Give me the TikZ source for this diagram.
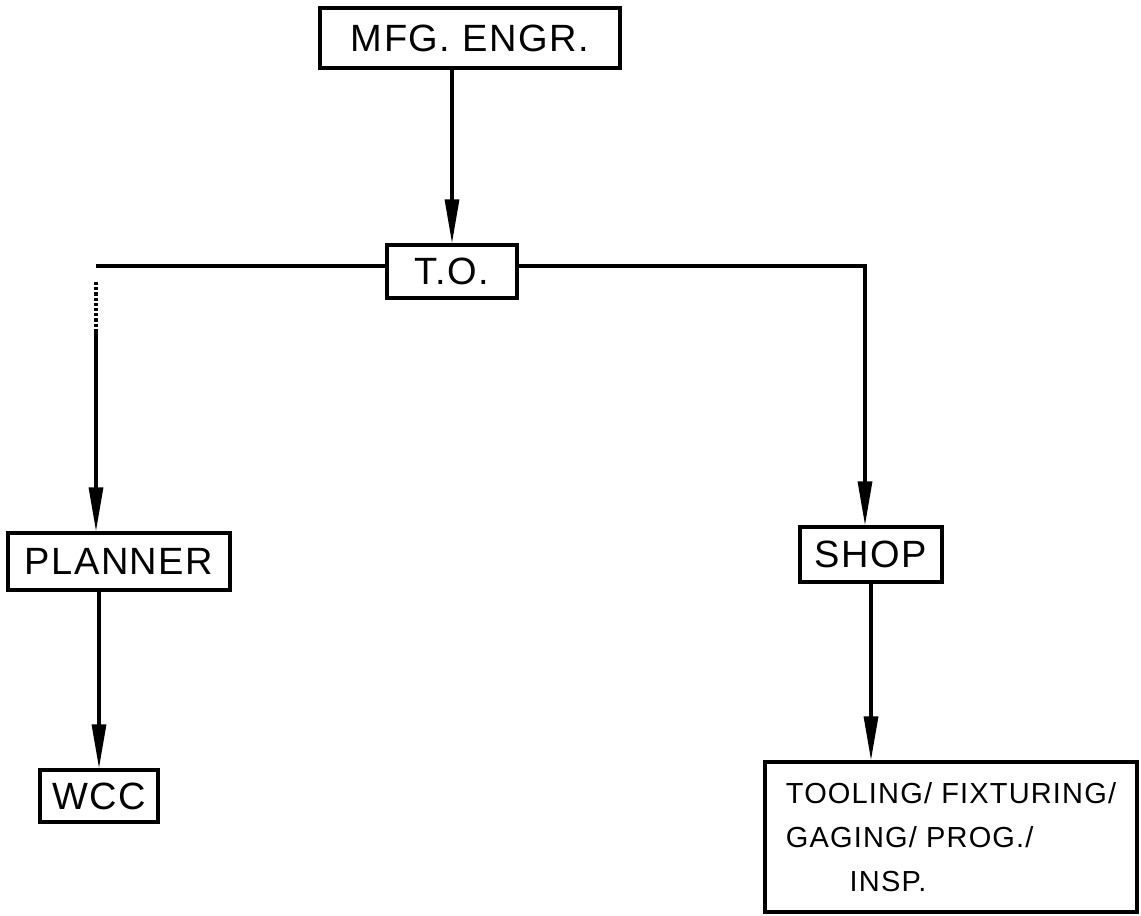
\documentclass[tikz,border=0pt]{standalone}
\usepackage{fontspec}
\setmainfont{Liberation Sans}
\newfontfamily\handfont[LetterSpace=4]{Liberation Sans}
\usetikzlibrary{arrows.meta}
\begin{document}
\begin{tikzpicture}[x=1pt,y=-1pt,
  box/.style={draw,line width=3.2pt,inner sep=0pt,font=\handfont\fontsize{38}{44}\selectfont},
  conn/.style={line width=3.2pt},
  arr/.style={conn,-{Triangle[length=44pt,width=14pt]}}]
\useasboundingbox (0,0) rectangle (1141,916);
\node[box,minimum width=300pt,minimum height=60pt] (mfg) at (470,38) {MFG. ENGR.};
\node[box,minimum width=130pt,minimum height=53pt] (to) at (452,271.5) {T.O.};
\node[box,minimum width=222pt,minimum height=57pt] (pl) at (119,561.5) {PLANNER};
\node[box,minimum width=118pt,minimum height=52pt] (wcc) at (99,796) {WCC};
\node[box,minimum width=142pt,minimum height=55pt] (shop) at (871,554.5) {SHOP};
\node[box,minimum width=372pt,minimum height=150pt,align=left,font=\handfont\fontsize{29}{44}\selectfont] (tool) at (951,837)
  {TOOLING/ FIXTURING/\\ GAGING/ PROG./\\ \hspace{2.2em}INSP.};
\coordinate (lc) at (96,266);
\coordinate (rc) at (865,266);
\draw[arr] (mfg.south -| to.north) -- (to.north);
\draw[conn] ([yshift=5.5pt]to.west) -- (lc);
\draw[conn,dotted] ([yshift=-16pt]lc) -- ([yshift=-66pt]lc);
\draw[arr] ([yshift=-66pt]lc) -- (lc |- pl.north);
\draw[arr] ([yshift=5.5pt]to.east) -- (rc) -- (rc |- shop.north);
\draw[arr] (wcc.north |- pl.south) -- (wcc.north);
\draw[arr] (shop.south) -- (shop.south |- tool.north);
\end{tikzpicture}
\end{document}
